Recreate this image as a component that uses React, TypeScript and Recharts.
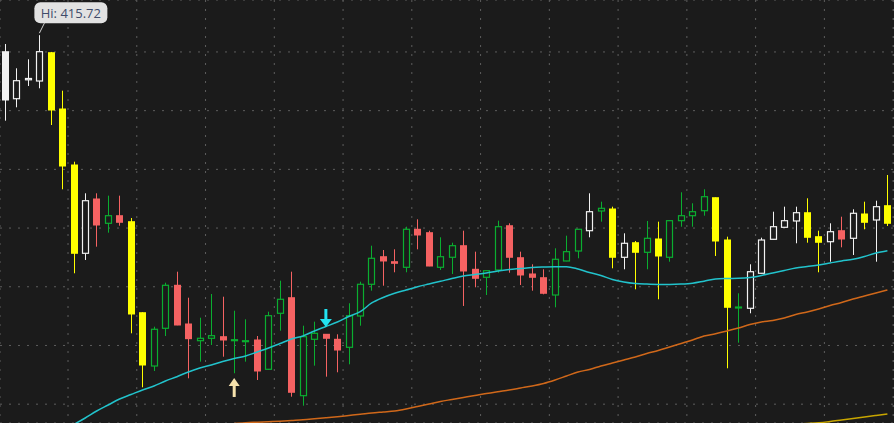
import { ComposedChart, Bar, Line, XAxis, YAxis, CartesianGrid, ReferenceDot } from 'recharts';

// daily OHLC
const opens = [
  410.09, 394.07, 400.51, 400.1, 409.75, 390.56, 371.48, 341.4, 359.9, 351.62,
  354.21, 352.17, 321.16, 303.0, 315.85, 330.5, 317.31, 311.62, 312.44, 312.99,
  311.76, 311.42, 311.86, 301.88, 320.96, 326.27, 292.89, 312.1, 313.8, 312.1,
  309.37, 320.04, 330.84, 340.24, 338.54, 336.63, 349.58, 348.42, 336.63, 340.04,
  343.99, 335.95, 333.22, 335.71, 350.8, 339.9, 334.35, 333.09, 327.19, 338.78,
  342.18, 349.1, 355.81, 356.49, 340.04, 345.01, 341.74, 346.27, 340.04, 352.51,
  354.21, 355.91, 360.34, 345.93, 322.9, 322.66, 334.59, 346.17, 350.26, 352.41,
  355.23, 347.06, 345.35, 349.1, 346.51, 354.79, 352.75, 357.62,
];
const highs = [
  412.71, 404.43, 407.5, 415.72, 410.0, 396.8, 372.61, 361.84, 361.84, 361.03,
  361.03, 353.43, 321.3, 316.39, 331.38, 335.13, 326.27, 319.46, 327.53, 326.61,
  321.84, 318.91, 313.22, 321.5, 332.07, 335.13, 316.73, 318.1, 313.9, 313.8,
  324.37, 331.72, 343.99, 342.52, 342.76, 350.46, 352.98, 349.1, 346.85, 345.01,
  349.1, 341.95, 335.5, 352.51, 351.62, 341.95, 337.65, 335.95, 343.1, 347.4,
  349.6, 361.84, 358.98, 357.28, 348.21, 345.59, 352.41, 352.17, 352.6, 362.18,
  358.44, 363.21, 360.4, 347.06, 327.77, 337.65, 346.72, 355.57, 357.28, 357.28,
  360.14, 349.1, 351.62, 353.87, 356.39, 358.98, 359.32, 368.08,
];
const lows = [
  386.58, 391.14, 398.4, 397.62, 385.11, 363.21, 334.59, 339.12, 343.65, 348.42,
  350.8, 314.14, 295.75, 301.3, 313.22, 316.9, 298.81, 304.47, 310.16, 306.17,
  300.52, 304.47, 298.23, 301.7, 315.03, 292.54, 289.48, 303.11, 299.36, 300.86,
  303.58, 316.73, 328.66, 330.36, 334.93, 334.93, 342.76, 337.0, 335.71, 334.35,
  323.45, 329.82, 327.19, 334.79, 334.79, 330.6, 328.66, 327.43, 323.0, 338.7,
  339.7, 346.85, 352.17, 336.29, 335.95, 329.13, 335.95, 325.73, 338.54, 350.46,
  350.46, 354.21, 340.48, 302.22, 310.94, 320.96, 334.5, 346.1, 350.2, 344.81,
  345.01, 334.93, 338.54, 343.44, 340.82, 349.58, 338.54, 350.7,
];
const closes = [
  393.63, 400.21, 400.96, 410.09, 390.22, 371.14, 341.4, 359.32, 351.04, 354.21,
  351.96, 320.72, 303.34, 315.51, 330.5, 316.97, 312.31, 312.44, 313.33, 311.86,
  311.96, 311.62, 301.3, 320.14, 325.73, 294.04, 312.99, 314.14, 312.44, 308.45,
  320.14, 330.84, 339.7, 338.78, 337.99, 349.58, 347.64, 337.07, 340.24, 343.99,
  335.37, 332.88, 335.47, 350.46, 340.04, 334.01, 333.22, 327.77, 339.36, 341.95,
  349.58, 355.57, 356.73, 340.04, 344.81, 341.74, 346.51, 340.48, 352.51, 354.21,
  355.57, 360.68, 345.59, 323.0, 323.1, 335.13, 345.93, 350.46, 352.51, 355.23,
  346.85, 345.15, 348.76, 346.27, 355.03, 351.96, 357.28, 351.62,
];
// candle colouring: W white, Y yellow, G green, R red
const candleColors = (
  'WWWWYYYWRG' + 'RYYGGRRGGR' + 'GGRGGRGGRR' + 'GGGRRGRRGG' +
  'RRGGRRRRGG' + 'GWGYWYGYGG' + 'GGYYGWWWWW' + 'YYWRWYWY'
).split('');

const n = (k: number) => Array(k).fill(null);
const fastMa = [
  ...n(5), 281.0,
  283.07, 285.29, 287.67, 289.72, 291.76, 293.29, 294.83, 296.19, 297.89, 299.36,
  300.96, 302.32, 303.34, 304.53, 305.56, 306.41, 307.77, 309.14, 310.67, 312.2,
  313.23, 314.93, 316.46, 318.0, 319.87, 321.5, 324.47, 326.34, 327.77, 328.9,
  330.02, 330.94, 331.86, 332.81, 333.67, 334.18, 334.69, 335.37, 335.88, 336.22,
  336.56, 336.73, 336.84, 336.84, 336.05, 334.86, 333.84, 332.48, 331.62, 331.1,
  330.9, 330.8, 330.8, 330.9, 331.2, 331.9, 332.64, 332.81, 332.88, 333.16,
  333.84, 334.69, 335.54, 336.39, 336.9, 337.41, 338.1, 338.78, 339.36, 340.31,
  341.5, 342.29,
];
const slowMa = [
  ...n(20),
  283.41, 283.69, 283.86, 284.03, 284.2, 284.44, 284.68, 285.01, 285.36, 285.73,
  286.14, 286.55, 286.99, 287.33, 287.67, 288.35, 289.2, 290.06, 290.91, 291.59,
  292.27, 292.95, 293.64, 294.25, 294.83, 295.51, 296.19, 297.04, 298.23, 299.6,
  300.96, 301.81, 303.0, 304.03, 305.05, 306.07, 307.26, 308.28, 309.48, 310.67,
  311.86, 313.22, 313.97, 314.93, 315.95, 317.14, 317.99, 318.51, 319.36, 320.55,
  321.4, 322.42, 323.62, 324.64, 325.83, 326.85, 327.87, 328.9,
];
const longMa = [
  ...n(69), 283.2, 283.41, 283.65, 284.09, 284.61, 285.12, 285.63, 286.14, 286.65,
];

const yTicks = [290, 310, 330, 350, 370, 390, 410];
const xTicks = [5.5, 11.5, 17.5, 23.5, 29.5, 35.5, 41.5, 47.5, 53.5, 59.5, 65.5, 71.5, 77.5];

const BG = '#1b1b1b';
const PALETTE: Record<string, string> = {
  W: '#f2f2f2',
  Y: '#ffff00',
  G: '#0aae30',
  R: '#f56262',
};

const data = opens.map((o, i) => ({
  i,
  o,
  h: highs[i],
  l: lows[i],
  c: closes[i],
  col: candleColors[i],
  range: [lows[i], highs[i]],
  fast: fastMa[i],
  slow: slowMa[i],
  long: longMa[i],
}));

const Candle = (props: any) => {
  const { x, y, width, height, payload } = props;
  const { o, h, l, c, col } = payload;
  const color = PALETTE[col];
  const top = Math.min(y, y + height);
  const k = Math.abs(height) / (h - l);
  const py = (v: number) => top + (h - v) * k;
  const cx = Math.round(x + width / 2) + 0.5;
  const bTop = py(Math.max(o, c));
  const bBot = py(Math.min(o, c));
  const up = c >= o;
  const bh = Math.max(bBot - bTop, 1);
  return (
    <g>
      <line x1={cx} x2={cx} y1={py(h)} y2={py(l)} stroke={color} strokeWidth={1} />
      {up ? (
        <rect x={cx - 3} y={bTop} width={6} height={bh} fill={BG} stroke={color} strokeWidth={1.2} />
      ) : (
        <rect x={cx - 3.5} y={bTop - 0.5} width={7} height={bh + 1} fill={color} />
      )}
    </g>
  );
};

const HiLabel = ({ cx, cy }: any) => (
  <g>
    <line x1={cx} y1={cy - 2} x2={cx + 5} y2={cy - 12} stroke="#d0d0d0" strokeWidth={1} />
    <rect x={cx - 5} y={cy - 33} width={73} height={21} rx={6} fill="#e2e2e2" />
    <text
      x={cx + 31.5}
      y={cy - 17.5}
      textAnchor="middle"
      fontSize={13}
      fill="#404c6a"
      fontFamily="'Open Sans', sans-serif"
    >
      Hi: {highs[3].toFixed(2)}
    </text>
  </g>
);

const UpArrow = ({ cx, cy }: any) => (
  <g fill="#f6e2ad">
    <polygon points={`${cx},${cy} ${cx - 5.5},${cy + 8} ${cx + 5.5},${cy + 8}`} />
    <rect x={cx - 1.5} y={cy + 7} width={3} height={12} />
  </g>
);

const DownArrow = ({ cx, cy }: any) => (
  <g fill="#22e2f0">
    <polygon points={`${cx},${cy} ${cx - 6},${cy - 8} ${cx + 6},${cy - 8}`} />
    <rect x={cx - 1.5} y={cy - 18} width={3} height={11} />
  </g>
);

export default function App() {
  return (
    <div style={{ position: 'absolute', left: 0, top: 0, width: 894, height: 423, background: BG }}>
      <ComposedChart width={894} height={423} data={data} margin={{ top: 0, right: 0, bottom: 0, left: 0 }}>
        <CartesianGrid stroke="#5e5e5e" strokeDasharray="2 7" />
        <XAxis
          hide
          type="number"
          dataKey="i"
          domain={[-0.436, 77.575]}
          ticks={xTicks}
          allowDataOverflow
        />
        <YAxis hide domain={[283.58, 427.7]} ticks={yTicks} allowDataOverflow />
        <Line dataKey="long" stroke="#c8a600" strokeWidth={1.5} dot={false} isAnimationActive={false} type="monotone" />
        <Line dataKey="slow" stroke="#d0681a" strokeWidth={1.5} dot={false} isAnimationActive={false} type="monotone" />
        <Line dataKey="fast" stroke="#22c3cc" strokeWidth={1.5} dot={false} isAnimationActive={false} type="monotone" />
        <Bar dataKey="range" barSize={7} shape={<Candle />} isAnimationActive={false} />
        <ReferenceDot x={3} y={highs[3]} r={0} shape={<HiLabel />} ifOverflow="visible" />
        <ReferenceDot x={20} y={298.92} r={0} shape={<UpArrow />} ifOverflow="visible" />
        <ReferenceDot x={28} y={316.29} r={0} shape={<DownArrow />} ifOverflow="visible" />
      </ComposedChart>
    </div>
  );
}
